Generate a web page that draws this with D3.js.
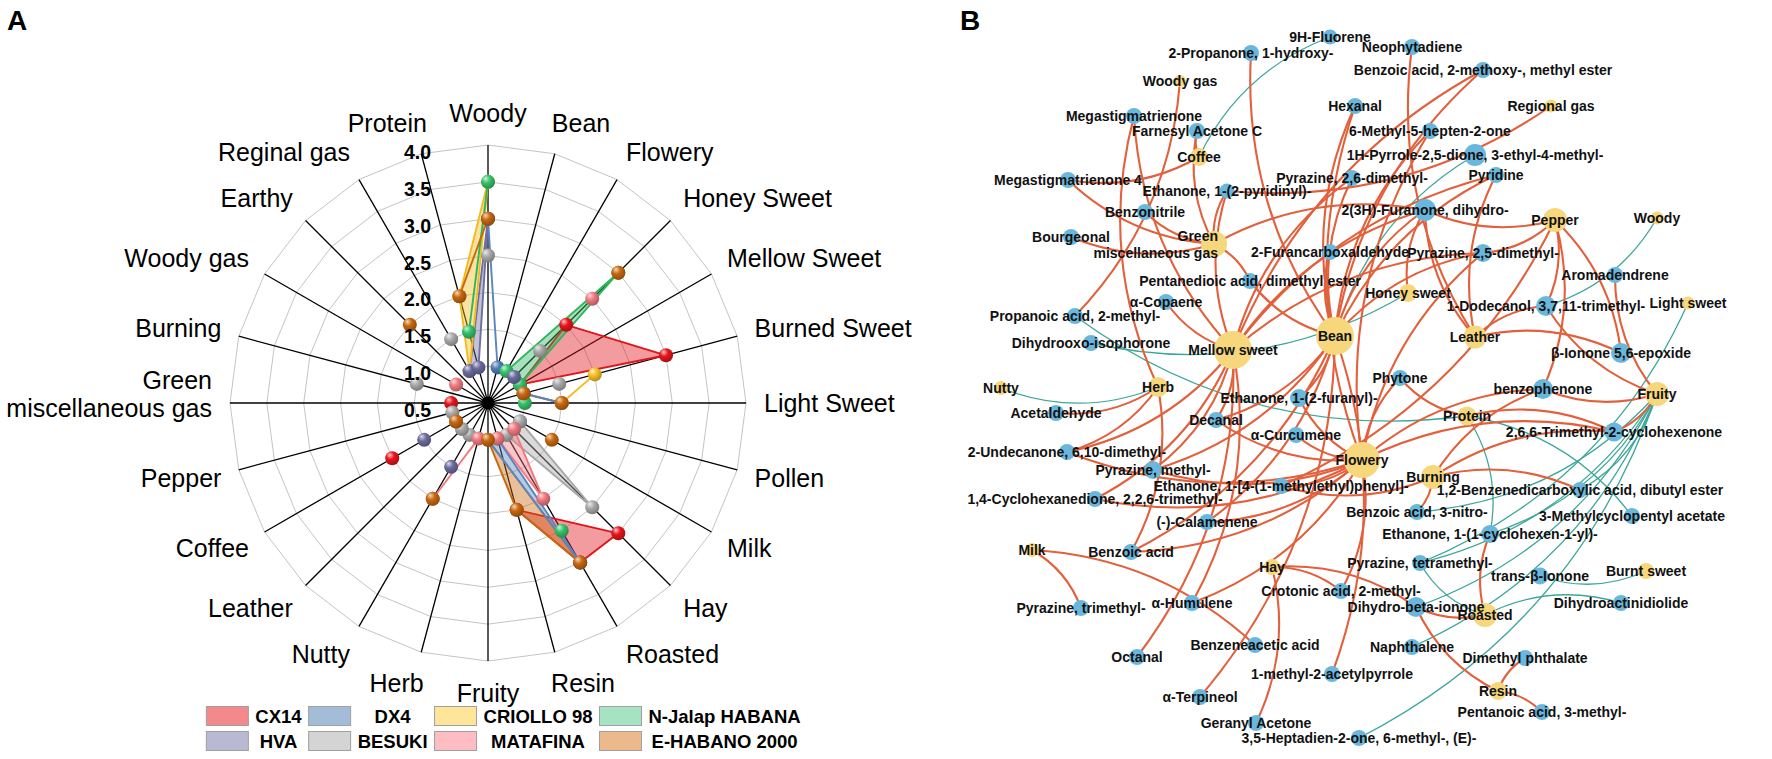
<!DOCTYPE html>
<html><head><meta charset="utf-8">
<script src="https://cdn.jsdelivr.net/npm/d3@7"></script>
<style>
body{margin:0;background:#fff;}
svg{display:block;font-family:Arial,"Liberation Sans",sans-serif;}
</style></head><body>
<svg id="c" width="1772" height="759"></svg>
<script>
// ---------------- DATA: radar (panel A) ----------------
const axes = ["Woody","Bean","Flowery","Honey Sweet","Mellow Sweet","Burned Sweet","Light Sweet","Pollen","Milk","Hay","Roasted","Resin","Fruity","Herb","Nutty","Leather","Coffee","Pepper","Green\nmiscellaneous gas","Burning","Woody gas","Earthy","Reginal gas","Protein"];
const radialTicks = [0.5,1.0,1.5,2.0,2.5,3.0,3.5,4.0];
const seriesNames = ["CX14","DX4","CRIOLLO 98","N-Jalap HABANA","HVA","BESUKI","MATAFINA","E-HABANO 2000"];
const _ = null;
//            Wdy Bean Flw Hon Mel Bur Lgt Pol Mlk Hay Roa Res Fru Hrb Nut Lea Cof Pep Grn Brn WGs Ert Reg Pro
const CX14   = [_,  _,   _,  2.0,1.0,3.0,_,  _,  _,  3.0,3.0,2.0,_,  _,  _,  _,  2.0,_,  1.0,_,  _,  _,  _,  _ ];
const DX4    = [3.0,1.0, _,  _,  _,  1.0,1.5,_,  _,  _,  3.0,1.0,1.0,_,  _,  _,  _,  _,  _,  _,  _,  _,  _,  _ ];
const CRIOLLO= [3.5,_,   _,  _,  _,  2.0,1.5,_,  _,  _,  _,  _,  _,  _,  _,  _,  _,  _,  _,  _,  _,  _,  1.0,2.0];
const NJALAP = [3.5,_,   1.0,3.0,1.0,1.0,1.0,_,  _,  _,  2.5,_,  _,  _,  _,  _,  _,  _,  _,  _,  _,  _,  _,  1.5];
const HVA    = [3.0,_,   _,  1.0,_,  _,  _,  _,  1.0,_,  _,  _,  _,  _,  1.5,_,  1.5,_,  _,  _,  _,  _,  1.0,1.0];
const BESUKI = [2.5,_,   _,  1.5,_,  1.5,_,  _,  1.0,2.5,1.0,_,  _,  _,  1.0,1.0,1.0,1.0,_,  1.5,_,  _,  1.5,_ ];
const MATAFINA=[_,  _,   _,  2.5,_,  _,  _,  _,  _,  1.0,2.0,1.0,_,  1.0,2.0,_,  _,  _,  _,  _,  1.0,_,  _,  _ ];
const EHABANO= [3.0,_,   _,  3.0,_,  1.0,1.5,_,  1.5,_,  3.0,2.0,1.0,_,  2.0,_,  1.0,_,  _,  _,  _,  2.0,_,  2.0];
const seriesValues = [CX14, DX4, CRIOLLO, NJALAP, HVA, BESUKI, MATAFINA, EHABANO];

// ---------------- DATA: network (panel B) ----------------
// layout coordinates of the network (x: 0-900, y: 0-759)
const aromaNodes = [
 ["Woody gas",320,81,6],["Regional gas",691,106,6.5],["Coffee",339,157,9],["Pepper",695,220,12],
 ["Woody",797,218,6.5],["Green\nmiscellaneous gas",354,244,13],["Honey sweet",548,293,9],["Light sweet",828,303,6.5],
 ["Bean",475,336,19],["Mellow sweet",373,350,19],["Leather",615,337,11.5],["Nutty",141,388,7],
 ["Herb",298,387,10],["Fruity",797,394,12],["Protein",607,416,9.5],["Flowery",502,460,18],
 ["Burning",573,477,12],["Milk",172,550,7],["Hay",412,567,8],["Burnt sweet",786,571,8],
 ["Roasted",625,615,12],["Resin",638,691,9]
];
const compoundNodes = [
 ["9H-Fluorene",470,37,7.5],["2-Propanone, 1-hydroxy-",391,53,8],["Neophytadiene",552,47,8],
 ["Benzoic acid, 2-methoxy-, methyl ester",623,70,8],["Hexanal",495,106,8],["Megastigmatrienone",274,116,8],
 ["Farnesyl Acetone C",337,131,8],["6-Methyl-5-hepten-2-one",570,131,8],["1H-Pyrrole-2,5-dione, 3-ethyl-4-methyl-",615,155,11],
 ["Megastigmatrienone 4",208,180,8],["Pyrazine, 2,6-dimethyl-",492,178,8],["Pyridine",636,175,8],
 ["Ethanone, 1-(2-pyridinyl)-",367,191,7.5],["Benzonitrile",285,212,8],["2(3H)-Furanone, dihydro-",565,210,11],
 ["Bourgeonal",211,237,8],["2-Furancarboxaldehyde",470,252,8],["Pyrazine, 2,5-dimethyl-",623,253,9],
 ["Aromadendrene",755,275,8],["Pentanedioic acid, dimethyl ester",390,281,8],["α-Copaene",306,302,8],
 ["1-Dodecanol, 3,7,11-trimethyl-",686,306,10],["Propanoic acid, 2-methyl-",215,316,8],["Dihydrooxo-isophorone",231,343,8],
 ["β-Ionone 5,6-epoxide",761,353,10],["Phytone",540,378,8],["Ethanone, 1-(2-furanyl)-",439,398,9],
 ["benzophenone",683,389,10],["Acetaldehyde",196,413,8],["Decanal",356,420,8],
 ["α-Curcumene",436,435,8],["2,6,6-Trimethyl-2-cyclohexenone",754,432,9.5],["2-Undecanone, 6,10-dimethyl-",207,452,8],
 ["Pyrazine, methyl-",293,470,9],["Ethanone, 1-[4-(1-methylethyl)phenyl]-",421,486,8],["1,2-Benzenedicarboxylic acid, dibutyl ester",720,490,8],
 ["1,4-Cyclohexanedione, 2,2,6-trimethyl-",235,499,8],["Benzoic acid, 3-nitro-",557,512,8],["3-Methylcyclopentyl acetate",772,516,8],
 ["(-)-Calamenene",347,522,8],["Ethanone, 1-(1-cyclohexen-1-yl)-",630,534,9],["Benzoic acid",271,552,8],
 ["Pyrazine, tetramethyl-",560,563,8],["trans-β-Ionone",680,576,8.5],["Crotonic acid, 2-methyl-",481,591,8],
 ["Pyrazine, trimethyl-",221,608,8],["α-Humulene",332,603,8],["Dihydro-beta-ionone",556,607,10],
 ["Dihydroactinidiolide",761,603,8],["Benzeneacetic acid",395,645,8],["Naphthalene",552,647,8],
 ["Octanal",277,657,8],["Dimethyl phthalate",665,658,8],["1-methyl-2-acetylpyrrole",472,674,8],
 ["α-Terpineol",340,697,8],["Pentanoic acid, 3-methyl-",682,712,8],["Geranyl Acetone",396,723,8],
 ["3,5-Heptadien-2-one, 6-methyl-, (E)-",499,738,8]
];
const G = "Green\nmiscellaneous gas";
const positiveLinks = [
 ["2-Propanone, 1-hydroxy-","Bean"],["Hexanal","Bean"],["6-Methyl-5-hepten-2-one","Bean"],["Pyrazine, 2,6-dimethyl-","Bean"],
 ["2-Furancarboxaldehyde","Bean"],["Pentanedioic acid, dimethyl ester","Bean"],["Pyrazine, 2,5-dimethyl-","Bean"],
 ["2(3H)-Furanone, dihydro-","Bean"],["Benzoic acid, 2-methoxy-, methyl ester","Bean"],["Neophytadiene","Leather"],
 ["Ethanone, 1-(2-furanyl)-","Bean"],["Decanal","Bean"],["α-Terpineol","Bean"],["1-methyl-2-acetylpyrrole","Bean"],
 ["Megastigmatrienone","Mellow sweet"],["Pyrazine, methyl-","Bean"],["Benzoic acid","Bean"],["(-)-Calamenene","Bean"],["Pyridine","Bean"],
 ["Pyrazine, 2,5-dimethyl-","Mellow sweet"],["α-Copaene","Mellow sweet"],["Ethanone, 1-(2-pyridinyl)-","Mellow sweet"],
 ["2(3H)-Furanone, dihydro-","Mellow sweet"],["Octanal","Mellow sweet"],["1,4-Cyclohexanedione, 2,2,6-trimethyl-","Mellow sweet"],
 ["Pyrazine, methyl-","Mellow sweet"],["α-Humulene","Mellow sweet"],["Decanal","Mellow sweet"],["2-Undecanone, 6,10-dimethyl-","Mellow sweet"],
 ["Pyridine","Mellow sweet"],["Pyrazine, 2,6-dimethyl-","Mellow sweet"],["Benzoic acid, 2-methoxy-, methyl ester","Mellow sweet"],
 ["Benzonitrile",G],["Bourgeonal",G],["Megastigmatrienone 4",G],["Ethanone, 1-(2-pyridinyl)-",G],["Farnesyl Acetone C",G],
 ["2(3H)-Furanone, dihydro-",G],["Pentanedioic acid, dimethyl ester",G],["Megastigmatrienone 4","Coffee"],["Farnesyl Acetone C","Coffee"],
 ["Ethanone, 1-(2-pyridinyl)-","Regional gas"],["Propanoic acid, 2-methyl-","Woody gas"],
 ["2(3H)-Furanone, dihydro-","Pepper"],["Pyrazine, 2,5-dimethyl-","Pepper"],["1-Dodecanol, 3,7,11-trimethyl-","Pepper"],
 ["β-Ionone 5,6-epoxide","Pepper"],["benzophenone","Pepper"],["Ethanone, 1-[4-(1-methylethyl)phenyl]-","Pepper"],
 ["1-Dodecanol, 3,7,11-trimethyl-","Leather"],["β-Ionone 5,6-epoxide","Leather"],["2(3H)-Furanone, dihydro-","Leather"],["Pyridine","Leather"],
 ["Ethanone, 1-[4-(1-methylethyl)phenyl]-","Flowery"],["α-Curcumene","Flowery"],["Decanal","Flowery"],["(-)-Calamenene","Flowery"],
 ["Pyrazine, methyl-","Flowery"],["1,4-Cyclohexanedione, 2,2,6-trimethyl-","Flowery"],["α-Humulene","Flowery"],["Ethanone, 1-(2-furanyl)-","Flowery"],
 ["benzophenone","Flowery"],["Phytone","Flowery"],["Benzoic acid","Flowery"],["Crotonic acid, 2-methyl-","Flowery"],
 ["2-Undecanone, 6,10-dimethyl-","Flowery"],["Pyrazine, 2,5-dimethyl-","Flowery"],["2,6,6-Trimethyl-2-cyclohexenone","Flowery"],
 ["Hexanal","Flowery"],["6-Methyl-5-hepten-2-one","Flowery"],
 ["benzophenone","Burning"],["2,6,6-Trimethyl-2-cyclohexenone","Burning"],["1,2-Benzenedicarboxylic acid, dibutyl ester","Burning"],
 ["Ethanone, 1-[4-(1-methylethyl)phenyl]-","Burning"],["Benzoic acid, 3-nitro-","Burning"],
 ["benzophenone","Fruity"],["2,6,6-Trimethyl-2-cyclohexenone","Fruity"],["Aromadendrene","Fruity"],["1-Dodecanol, 3,7,11-trimethyl-","Fruity"],
 ["Acetaldehyde","Herb"],["Megastigmatrienone","Herb"],["2-Undecanone, 6,10-dimethyl-","Herb"],["Benzoic acid","Herb"],
 ["2,6,6-Trimethyl-2-cyclohexenone","Protein"],["Phytone","Protein"],
 ["Geranyl Acetone","Hay"],["Dihydro-beta-ionone","Hay"],["Crotonic acid, 2-methyl-","Hay"],
 ["Pyrazine, trimethyl-","Milk"],["Benzeneacetic acid","Milk"],
 ["Dihydro-beta-ionone","Roasted"],["Ethanone, 1-(1-cyclohexen-1-yl)-","Roasted"],
 ["Dihydro-beta-ionone","Resin"],["Dimethyl phthalate","Resin"],["Pentanoic acid, 3-methyl-","Resin"],
 ["2(3H)-Furanone, dihydro-","Honey sweet"]
];
const negativeLinks = [
 ["9H-Fluorene","Coffee"],["1H-Pyrrole-2,5-dione, 3-ethyl-4-methyl-","Bean"],["1-Dodecanol, 3,7,11-trimethyl-","Woody"],
 ["Pyrazine, tetramethyl-","Light sweet"],["Nutty","Herb"],["Dihydrooxo-isophorone","Honey sweet"],["Propanoic acid, 2-methyl-","Protein"],
 ["Pyrazine, tetramethyl-","Fruity"],["Ethanone, 1-(1-cyclohexen-1-yl)-","Fruity"],["Benzoic acid, 3-nitro-","Fruity"],
 ["Dihydro-beta-ionone","Fruity"],["Naphthalene","Fruity"],["3,5-Heptadien-2-one, 6-methyl-, (E)-","Fruity"],
 ["3-Methylcyclopentyl acetate","Protein"],["Dihydroactinidiolide","Roasted"],["trans-β-Ionone","Burnt sweet"],
 ["Pyrazine, tetramethyl-","Roasted"],["Ethanone, 1-(1-cyclohexen-1-yl)-","Protein"],["1,2-Benzenedicarboxylic acid, dibutyl ester","Fruity"]
];

// ---------------- STYLE ----------------
const lineColors  = ["#e2141b","#5a86bf","#f3bb1e","#2fb65d","#6f6fa1","#a7a7a7","#f2787e","#c7690f"];
const dotColors   = ["#e8141c","#4f7db5","#f5c227","#35c26a","#6b6b9e","#a9a9a9","#f07a80","#c8680f"];
const swatchColors= ["#f4898b","#a3bcd8","#fde59a","#a6e3c3","#b9b9d4","#d4d4d4","#fdbdc2","#ebb98c"];
const drawOrder = [0,4,5,2,3,6,7,1];

const svg = d3.select("#c");
const defs = svg.append("defs");
dotColors.forEach((c,k)=>{
  const g = defs.append("radialGradient").attr("id","sph"+k)
    .attr("cx","40%").attr("cy","35%").attr("r","65%").attr("fx","32%").attr("fy","26%");
  g.append("stop").attr("offset","0%").attr("stop-color", d3.interpolateRgb(c,"#ffffff")(0.75));
  g.append("stop").attr("offset","45%").attr("stop-color", c);
  g.append("stop").attr("offset","100%").attr("stop-color", d3.color(c).darker(0.9));
});

// panel letters
svg.append("text").attr("x",7).attr("y",30).attr("font-size",28).attr("font-weight","bold").text("A");
svg.append("text").attr("x",960).attr("y",30).attr("font-size",28).attr("font-weight","bold").text("B");

// ---------------- PANEL A: radar ----------------
const A = {cx:488, cy:403, R:258, LR:276};
const rScale = d3.scaleLinear().domain([0.5,4.0]).range([0,A.R]);
const aScale = d3.scaleLinear().domain([0,axes.length]).range([0,2*Math.PI]);
const P = (i,v)=>{const a=aScale(i); return [A.cx + rScale(v)*Math.sin(a), A.cy - rScale(v)*Math.cos(a)];};
const gA = svg.append("g");

radialTicks.filter(t=>t>0.5).forEach(t=>{
  gA.append("path").attr("d", d3.line()(d3.range(axes.length).map(i=>P(i,t)))+"Z")
    .attr("fill","none").attr("stroke","#c4c4c4").attr("stroke-width",1);
});
axes.forEach((d,i)=>{
  const p = P(i,4.0);
  gA.append("line").attr("x1",A.cx).attr("y1",A.cy).attr("x2",p[0]).attr("y2",p[1])
    .attr("stroke","#000").attr("stroke-width",1.3);
});

function runs(vals){
  const n = vals.length, out=[];
  for(let i=0;i<n;i++){
    if(vals[i]!=null && vals[(i-1+n)%n]==null){
      const run=[]; let j=i;
      while(vals[j%n]!=null && run.length<n){ run.push(j%n); j++; }
      out.push(run);
    }
  }
  if(!out.length && vals.every(v=>v!=null)) out.push(d3.range(n));
  return out;
}
const gSeries = gA.append("g");
drawOrder.forEach(k=>{
  const vals = seriesValues[k];
  runs(vals).forEach(run=>{
    const pts = run.map(i=>P(i, vals[i]));
    if(pts.length>=3){
      gSeries.append("path").attr("d", d3.line()(pts)+"Z")
        .attr("fill", lineColors[k]).attr("fill-opacity",0.42)
        .attr("stroke", lineColors[k]).attr("stroke-width",1.9).attr("stroke-linejoin","round");
    } else if(pts.length===2){
      gSeries.append("path").attr("d", d3.line()(pts))
        .attr("fill","none").attr("stroke", lineColors[k]).attr("stroke-width",1.9);
    }
  });
});
gA.append("circle").attr("cx",A.cx).attr("cy",A.cy).attr("r",6.5).attr("fill","#000");
seriesValues.forEach((vals,k)=>{
  vals.forEach((v,i)=>{
    if(v==null) return;
    const p = P(i,v);
    gA.append("circle").attr("cx",p[0]).attr("cy",p[1]).attr("r",7)
      .attr("fill","url(#sph"+k+")");
  });
});

radialTicks.forEach(t=>{
  gA.append("text").attr("x",A.cx-57).attr("y",A.cy - rScale(t) + 7)
    .attr("text-anchor","end").attr("dominant-baseline","central")
    .attr("font-size",19.5).attr("font-weight","bold").attr("fill","#000")
    .text(d3.format(".1f")(t));
});

axes.forEach((name,i)=>{
  const a = aScale(i), s = Math.sin(a), c = Math.cos(a);
  const px = A.cx + A.LR*s, py = A.cy - A.LR*c;
  const lines = name.split("\n");
  const t = gA.append("text").attr("font-size",25).attr("fill","#000");
  lines.forEach((ln)=> t.append("tspan").text(ln));
  const w = d3.max(t.selectAll("tspan").nodes(), n=>n.getComputedTextLength());
  const f = Math.max(-1, Math.min(1, s/0.35));
  const ccx = px + f*w/2;
  const ccy = py - c*14;
  const lh = 28;
  if(lines.length>1){
    t.attr("text-anchor","end");
    t.selectAll("tspan").attr("x", ccx + w/2)
      .attr("y",(d,j)=> ccy - 9 + (j-(lines.length-1)/2)*lh)
      .attr("dominant-baseline","central");
  } else {
    t.attr("text-anchor","middle");
    t.selectAll("tspan").attr("x", ccx).attr("y", ccy).attr("dominant-baseline","central");
  }
});

// legend
const gL = gA.append("g");
const legCols = 4;
const legendFont = 18.5;
const tmp = gL.append("text").attr("font-size",legendFont).attr("font-weight","bold");
const textW = seriesNames.map(n=>{tmp.text(n); return tmp.node().getComputedTextLength();});
tmp.remove();
const sw = 42, swH = 19, pad = 14;
const colW = d3.range(legCols).map(c=> sw + d3.max([textW[c], textW[c+legCols]]) + pad);
const totalW = d3.sum(colW);
const legX0 = 507 - totalW/2;
const rowY = [716, 741];
seriesNames.forEach((n,k)=>{
  const row = Math.floor(k/legCols), col = k%legCols;
  const x0 = legX0 + d3.sum(colW.slice(0,col));
  gL.append("rect").attr("x",x0).attr("y",rowY[row]-swH/2).attr("width",sw).attr("height",swH)
    .attr("fill",swatchColors[k]).attr("stroke","#a0a0a0").attr("stroke-width",1);
  gL.append("text").attr("x", x0 + sw + (colW[col]-sw)/2).attr("y",rowY[row])
    .attr("text-anchor","middle").attr("dominant-baseline","central")
    .attr("font-size",legendFont).attr("font-weight","bold").text(n);
});

// ---------------- PANEL B: network ----------------
const xN = d3.scaleLinear().domain([0,900]).range([860,1760]);
const yN = d3.scaleLinear().domain([0,759]).range([0,759]);
const nodes = new Map();
aromaNodes.forEach(d=>nodes.set(d[0],{name:d[0],kind:"a",x:xN(d[1]),y:yN(d[2]),r:d[3]}));
compoundNodes.forEach(d=>nodes.set(d[0],{name:d[0],kind:"c",x:xN(d[1]),y:yN(d[2]),r:d[3]}));
const gB = svg.append("g");
function arc(s,t,bend){
  const dx=t.x-s.x, dy=t.y-s.y;
  const mx=(s.x+t.x)/2 - dy*bend, my=(s.y+t.y)/2 + dx*bend;
  const p = d3.path(); p.moveTo(s.x,s.y); p.quadraticCurveTo(mx,my,t.x,t.y); return p.toString();
}
const gE = gB.append("g").attr("fill","none");
negativeLinks.forEach(([a,b])=>{
  const s=nodes.get(a), t=nodes.get(b); if(!s||!t) return;
  gE.append("path").attr("d",arc(s,t,0.2)).attr("stroke","#3da79b").attr("stroke-width",1.3);
});
positiveLinks.forEach(([a,b])=>{
  const s=nodes.get(a), t=nodes.get(b); if(!s||!t) return;
  gE.append("path").attr("d",arc(s,t,0.18)).attr("stroke","#e2603b").attr("stroke-width",2.1);
});
const allNodes = Array.from(nodes.values());
gB.selectAll("circle.n").data(allNodes).join("circle").attr("class","n")
  .attr("cx",d=>d.x).attr("cy",d=>d.y).attr("r",d=>d.r)
  .attr("fill",d=>d.kind==="a"?"#f6d77c":"#6ab7dd");
allNodes.forEach(d=>{
  const lines = d.name.split("\n");
  const t = gB.append("text").attr("font-size",14).attr("font-weight","bold").attr("fill","#111");
  if(lines.length>1){
    t.attr("text-anchor","end");
    lines.forEach((ln,j)=> t.append("tspan").attr("x",d.x+4).attr("y",d.y-8+j*17).attr("dominant-baseline","central").text(ln));
  } else {
    t.attr("text-anchor","middle").attr("x",d.x).attr("y",d.y).attr("dominant-baseline","central").text(d.name);
  }
});
</script>
</body></html>
